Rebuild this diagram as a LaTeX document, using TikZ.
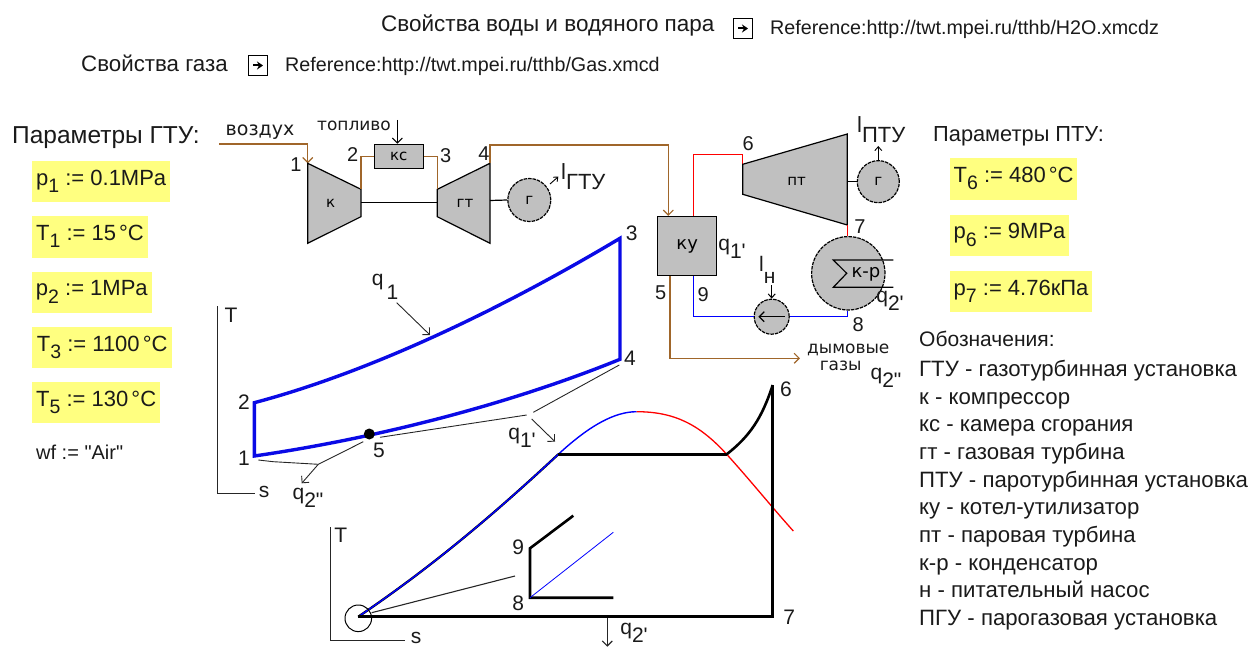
\documentclass[tikz,border=0pt]{standalone}
\usepackage{fontspec}
\usepackage{xcolor}
\setmainfont{Liberation Sans}
\newfontfamily\lfont{Liberation Sans}
\newfontfamily\schemfont{DejaVu Sans}
\usetikzlibrary{arrows.meta,positioning}
\definecolor{parambg}{HTML}{ffff80}
\definecolor{machinebg}{HTML}{c0c0c0}
\definecolor{gaspipe}{HTML}{a0662a}
\definecolor{cycleblue}{HTML}{0a0ae6}
\definecolor{textgray}{HTML}{1a1a1a}
\newcommand{\fnt}[1]{\fontsize{#1}{#1}\selectfont}
\newcommand{\subtxt}[2]{#1\raisebox{-0.38em}{#2}}
\newcommand{\psub}[2]{#1\raisebox{-7.5pt}{\fnt{19.5}#2}}
\newcommand{\dgc}{\hspace{0.14em}°C}
\tikzset{
  txt/.style={inner sep=0pt,text=textgray,font=\fnt{22.2}},
  reftxt/.style={inner sep=0pt,text=textgray,anchor=west,font=\fnt{19.7}},
  param/.style={fill=parambg,anchor=west,inner xsep=3.5pt,inner ysep=0pt,minimum height=41.5pt,text height=12pt,text depth=5pt,text=textgray,font=\fnt{22}},
  ptnum/.style={inner sep=0pt,text=textgray,font=\fnt{20}},
  cyclenum/.style={inner sep=0pt,text=textgray,font=\fnt{21}},
  qlab/.style={inner sep=0pt,text=textgray,font=\lfont\fnt{21}},
  schem/.style={inner sep=0pt,text=textgray,font=\schemfont\fnt{17}},
  machine/.style={draw=black,fill=machinebg,line width=1.2pt},
  gencirc/.style={machine,circle,inner sep=0pt,dash pattern=on 3.5pt off 1pt,font=\schemfont\fnt{15}},
  mlabel/.style={inner sep=0pt,font=\schemfont\fnt{15}},
  pipegas/.style={draw=gaspipe,line width=1.2pt},
  pipered/.style={draw=red,line width=1.2pt},
  pipeblue/.style={draw=blue,line width=1.2pt},
  openarr/.style={-{Straight Barb[length=5pt,width=10pt]}},
  thinline/.style={draw=black!85,line width=0.9pt},
  axisline/.style={draw=black!85,line width=1pt},
  cycleline/.style={draw=cycleblue,line width=3.4pt,line join=miter},
  heavyline/.style={draw=black,line width=2.6pt},
  iconbox/.style={draw=black,line width=1.1pt,minimum width=19pt,minimum height=20pt,inner sep=0pt},
  iconarr/.style={line width=2pt,-{Stealth[length=6pt,width=8pt]}}
}
\begin{document}
\begin{tikzpicture}[x=1pt,y=-1pt]
  \useasboundingbox (0,0) rectangle (1248,647);

  % Header lines
  \node[txt,anchor=base west,font=\fnt{22.5}] (waterhdr) at (381,32) {Свойства воды и водяного пара};
  \node[iconbox] (wateric) at (743,28.5) {};
  \draw[iconarr] ([xshift=-5pt]wateric.center) -- ([xshift=5pt]wateric.center);
  \node[reftxt,anchor=base west] (waterref) at (770,35) {Reference:http://twt.mpei.ru/tthb/H2O.xmcdz};
  \node[txt,anchor=base west,font=\fnt{22.3}] (gashdr) at (81,72) {Свойства газа};
  \node[iconbox] (gasic) at (258,65.5) {};
  \draw[iconarr] ([xshift=-5pt]gasic.center) -- ([xshift=5pt]gasic.center);
  \node[reftxt,anchor=base west] (gasref) at (285,72) {Reference:http://twt.mpei.ru/tthb/Gas.xmcd};

  % Left parameters
  \node[txt,anchor=base west,font=\fnt{24.5}] (gtuhdr) at (12,144) {Параметры ГТУ:};
  \foreach \pname/\py/\pw/\ptxt in {
    pa/181.6/138/{\psub{p}{1} := 0.1MPa},
    tb/236.8/115.7/{\psub{T}{1} := 15\dgc},
    pc/292.3/119.3/{\psub{p}{2} := 1MPa},
    td/347.5/140/{\psub{T}{3} := 1100\dgc},
    te/402.5/128/{\psub{T}{5} := 130\dgc}} {
    \node[param,minimum width=\pw pt] (\pname) at (32,\py) {\ptxt\hfill};
  }
  \node[txt,anchor=base west,font=\lfont\fnt{20}] (wf) at (36,459) {wf := "Air"};

  % Right parameters
  \node[txt,anchor=base west,font=\fnt{21.8}] (ptuhdr) at (933,142) {Параметры ПТУ:};
  \foreach \pname/\py/\pw/\ptxt in {
    pf/179/126/{\psub{T}{6} := 480\dgc},
    pg/235.5/117/{\psub{p}{6} := 9MPa},
    ph/291.5/140/{\psub{p}{7} := 4.76кПа}} {
    \node[param,minimum width=\pw pt] (\pname) at (950,\py) {\ptxt\hfill};
  }

  % Legend
  \node[txt,anchor=base west,font=\fnt{21}] (leg0) at (919,346) {Обозначения:};
  \foreach \lname/\ly/\ltxt in {
    lega/376/{ГТУ - газотурбинная установка},
    legb/404/{к - компрессор},
    legc/431/{кс - камера сгорания},
    legd/459/{гт - газовая турбина},
    lege/487/{ПТУ - паротурбинная установка},
    legf/514/{ку - котел-утилизатор},
    legg/542/{пт - паровая турбина},
    legh/570/{к-р - конденсатор},
    legi/597/{н - питательный насос},
    legj/625/{ПГУ - парогазовая установка}} {
    \node[txt,anchor=base west] (\lname) at (919,\ly) {\ltxt};
  }

  % Gas turbine plant
  \coordinate (airin) at (219,144);
  \coordinate (airc) at (307.7,144);
  \coordinate (ka) at (307.7,163.3);
  \coordinate (kb) at (361,189.3);
  \coordinate (kc) at (361,216.7);
  \coordinate (kd) at (307.7,243.3);
  \coordinate (ga) at (437.3,189.3);
  \coordinate (gb) at (490,163.3);
  \coordinate (gc) at (490,243.3);
  \coordinate (gd) at (437.3,216.7);
  \coordinate (kshaft) at (361,202.7);
  \coordinate (gshaftl) at (437.3,202.7);
  \coordinate (gshaftr) at (490,200.5);
  \coordinate (gpipe) at (490,145);
  \coordinate (gpipeb) at (668.3,145);
  \draw[pipegas,openarr] (airin) -- (airc) -- (ka);
  \draw[machine] (ka) -- (kb) -- (kc) -- (kd) -- cycle;
  \draw[machine] (ga) -- (gb) -- (gc) -- (gd) -- cycle;
  \node[mlabel] (klab) at (330.7,203) {к};
  \node[mlabel] (gtlab) at (465,203) {гт};
  \node[machine,mlabel,minimum width=49pt,minimum height=24.4pt] (ks) at (398.8,156.5) {кс};
  \draw[pipegas] (kb) |- (ks.west);
  \draw[pipegas] (ks.east) -| (ga);
  \draw[line width=1.2pt] (kshaft) -- (gshaftl);
  \node[gencirc,minimum size=43pt] (gengt) at (529.3,200) {г};
  \draw[line width=1.2pt] (gshaftr) -- (gengt.west);
  \node[ptnum] (na) at (296,164.3) {1};
  \node[ptnum] (nb) at (352.7,154.3) {2};
  \node[ptnum] (nc) at (445.7,156) {3};
  \node[ptnum] (nd) at (484,153.3) {4};
  \node[schem,font=\schemfont\fnt{19}] (airlab) at (260,131.7) {воздух};
  \node[schem] (fuellab) at (354,126) {топливо};
  \coordinate (fuelin) at (397.3,120);
  \draw[line width=1pt,openarr] (fuelin) -- (ks.north -| fuelin);
  \coordinate (lgta) at (550,184);
  \coordinate (lgtb) at (558.3,176.7);
  \draw[line width=0.9pt,-{Straight Barb[length=3.5pt,width=6pt]}] (lgta) -- (lgtb);
  \node[qlab,anchor=west,font=\lfont\fnt{22}] (lgt) at (561,177) {\raisebox{0.4em}{l}\raisebox{-0.05em}{ГТУ}};

  % Heat recovery boiler and steam cycle
  \node[machine,minimum size=59pt,inner sep=0pt,font=\schemfont\fnt{18}] (ku) at (687.2,246) {ку};
  \draw[pipegas,openarr] (gb) -- (gpipe) -- (gpipeb) -- (gpipeb |- ku.north);
  \coordinate (pa6) at (742.7,164.3);
  \coordinate (pb6) at (847.3,134);
  \coordinate (pc6) at (847.3,225);
  \coordinate (pd6) at (742.7,194.3);
  \coordinate (redtop) at (693.3,154.5);
  \coordinate (redmid) at (742.7,154.5);
  \draw[pipered] (redtop |- ku.north) -- (redtop) -- (redmid) -- (pa6);
  \draw[machine] (pa6) -- (pb6) -- (pc6) -- (pd6) -- cycle;
  \node[mlabel] (ptlab) at (796.7,181) {пт};
  \node[gencirc,minimum size=42pt] (genpt) at (878.3,181.7) {г};
  \coordinate (pshaft) at (847.3,181.7);
  \draw[line width=1.2pt] (pshaft) -- (genpt.west);
  \coordinate (lptb) at (878.3,146);
  \draw[line width=0.9pt,-{Straight Barb[length=4pt,width=7pt]}] (genpt.north) -- (lptb);
  \node[qlab,anchor=west,font=\lfont\fnt{22}] (lpt) at (857,130) {\raisebox{0.4em}{l}\raisebox{-0.05em}{ПТУ}};
  \node[gencirc,minimum size=73.4pt] (kr) at (848.3,273.3) {};
  \coordinate (ptout) at (847.7,225);
  \draw[pipered] (ptout) -- (ptout |- kr.north);
  \coordinate (cola) at (893.3,260);
  \coordinate (colb) at (833.3,260);
  \coordinate (colc) at (846.7,273.3);
  \coordinate (cold) at (833.3,287.3);
  \coordinate (cole) at (893.3,287.3);
  \draw[line width=1.2pt,line join=miter] (cola) -- (colb) -- (colc) -- (cold) -- (cole);
  \node[mlabel,font=\schemfont\fnt{18}] (krlab) at (866,274) {к-р};
  \node[gencirc,minimum size=35pt] (pump) at (771.7,316.7) {};
  \coordinate (condbot) at (847.7,316.7);
  \coordinate (bluel) at (693.3,316.7);
  \draw[pipeblue] (kr.south -| condbot) -- (condbot) -- (pump.east);
  \draw[pipeblue] (pump.west) -- (bluel) -- (bluel |- ku.south);
  \coordinate (pumpa) at (785,316.7);
  \coordinate (pumpb) at (758.3,316.7);
  \draw[line width=1.3pt,openarr] (pumpa) -- (pumpb);
  \coordinate (lhtop) at (771.7,285);
  \draw[line width=1pt,-{Straight Barb[length=4pt,width=7pt]}] (lhtop) -- (pump.north);
  \node[qlab,anchor=west] (lh) at (759,270) {\raisebox{0.25em}{l}\raisebox{-0.3em}{н}};
  \coordinate (fluein) at (670,358.3);
  \coordinate (flueout) at (800,358.3);
  \draw[pipegas,openarr] (fluein |- ku.south) -- (fluein) -- (flueout);
  \node[schem] (flue) at (848.3,350) {дымовые};
  \node[schem] (fluegas) at (840.7,366) {газы};
  \node[ptnum] (ne) at (660.7,292.7) {5};
  \node[ptnum] (nf) at (748.3,143.3) {6};
  \node[ptnum] (ng) at (860,226.7) {7};
  \node[ptnum] (nh) at (858.3,324.3) {8};
  \node[ptnum] (ni) at (703.3,295) {9};
  \node[qlab] (qku) at (732,249) {\subtxt{q}{1'}};
  \node[qlab] (qkr) at (890,301) {\subtxt{q}{2'}};
  \node[qlab] (qflue) at (886,378) {\subtxt{q}{2"}};

  % Gas cycle in T-s axes
  \coordinate (axta) at (217.3,306);
  \coordinate (axtb) at (217.3,493.3);
  \coordinate (axtc) at (255,493.3);
  \draw[axisline] (axta) -- (axtb) -- (axtc);
  \node[cyclenum] (axtt) at (231,315) {T};
  \node[cyclenum] (axts) at (264,492) {s};
  \coordinate (cyca) at (254.3,456);
  \coordinate (cycb) at (254.3,402.7);
  \coordinate (cycc) at (620,238.3);
  \coordinate (cycd) at (620,359.3);
  \draw[cycleline] (cyca) -- (cycb) .. controls (370,372) and (500,310) .. (cycc) -- (cycd)
    .. controls (500,408) and (365,440) .. cycle;
  \node[fill=black,circle,inner sep=0pt,minimum size=11pt] (dotf) at (369.3,434) {};
  \node[cyclenum] (ca) at (244,458) {1};
  \node[cyclenum] (cb) at (244,401.7) {2};
  \node[cyclenum] (cc) at (631.7,233) {3};
  \node[cyclenum] (cd) at (630,358) {4};
  \node[cyclenum] (ce) at (379,450.7) {5};

  % Heat labels of the gas cycle
  \coordinate (qaa) at (396.7,302.7);
  \coordinate (qab) at (430,335);
  \draw[thinline,openarr] (qaa) -- (qab);
  \node[qlab] (qone) at (385,287) {\raisebox{0.35em}{q}\hspace{3pt}\raisebox{-0.3em}{1}};
  \coordinate (ela) at (258.3,460);
  \coordinate (elb) at (273.3,461.7);
  \coordinate (elc) at (318.3,464.3);
  \coordinate (eld) at (363.3,441.7);
  \coordinate (ele) at (301.7,483.3);
  \draw[thinline] (ela) -- (elb) -- (elc) -- (eld);
  \draw[thinline,openarr] (elc) -- (ele);
  \node[qlab] (qtwo) at (308,498) {\subtxt{q}{2"}};
  \coordinate (fla) at (380,437.3);
  \coordinate (flb) at (526.7,415);
  \coordinate (flc) at (533.3,412.3);
  \coordinate (fld) at (619.3,365);
  \coordinate (fle) at (531.7,419);
  \coordinate (flf) at (555,441.7);
  \draw[thinline] (fla) -- (flb);
  \draw[thinline] (flc) -- (fld);
  \draw[thinline,openarr] (fle) -- (flf);
  \node[qlab] (qfive) at (522,438) {\subtxt{q}{1'}};

  % Steam cycle in T-s axes
  \coordinate (axpa) at (330,527.3);
  \coordinate (axpb) at (330,640);
  \coordinate (axpc) at (405,640);
  \draw[axisline] (axpa) -- (axpb) -- (axpc);
  \node[cyclenum] (axpt) at (340.7,535.7) {T};
  \node[cyclenum] (axps) at (416,638) {s};
  \coordinate (sa) at (558.3,454.3);
  \coordinate (sb) at (726.7,454.3);
  \coordinate (sc) at (772.7,385);
  \coordinate (sd) at (772.7,616.7);
  \coordinate (se) at (358.3,616.7);
  \coordinate (stop) at (636.7,411.7);
  \coordinate (send) at (793.3,531);
  \draw[heavyline,line width=2.3pt] (se) .. controls (430,568) and (490,518) .. (sa);
  \draw[draw=blue,line width=1.4pt] (se) .. controls (430,568) and (490,518) .. (sa)
    .. controls (590,425) and (615,411.7) .. (stop);
  \draw[draw=red,line width=1.3pt] (stop) .. controls (675,411.7) and (700,425) .. (sb)
    .. controls (750,480) and (770,505) .. (send);
  \draw[heavyline] (sa) -- (sb);
  \draw[heavyline] (sb) .. controls (750,436) and (762,418) .. (sc);
  \draw[heavyline,line join=miter] (sc) -- (sd) -- (se);
  \node[draw=black,circle,line width=1pt,minimum size=26.6pt,inner sep=0pt] (loopc) at (358.3,618.3) {};
  \coordinate (zoomb) at (515,576);
  \coordinate (zooma) at (371.7,612.7);
  \draw[thinline,line width=1.1pt] (zooma) -- (zoomb);
  \coordinate (ia) at (573.3,515.7);
  \coordinate (ib) at (530,548.3);
  \coordinate (ic) at (530,597.7);
  \coordinate (id) at (613.3,597.7);
  \coordinate (ie) at (613.3,532.3);
  \draw[heavyline,line join=miter] (ia) -- (ib) -- (ic) -- (id);
  \draw[draw=blue,line width=0.8pt] (ic) -- (ie);
  \node[cyclenum] (cf) at (786,389.3) {6};
  \node[cyclenum] (cg) at (789.3,617.3) {7};
  \node[cyclenum] (ch) at (518.3,603.3) {8};
  \node[cyclenum] (ci) at (518.3,547.3) {9};
  \coordinate (qda) at (607.3,618.3);
  \coordinate (qdb) at (607.3,646.7);
  \draw[thinline,line width=1.1pt,openarr] (qda) -- (qdb);
  \node[qlab] (qdlab) at (634,633) {\subtxt{q}{2'}};
\end{tikzpicture}
\end{document}
